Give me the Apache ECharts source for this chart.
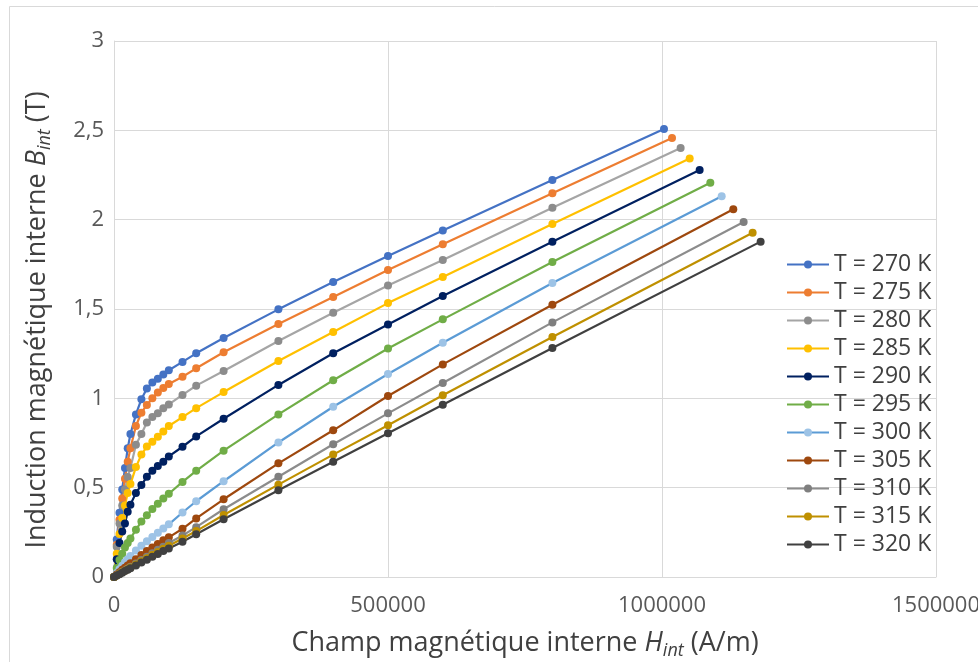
<!DOCTYPE html>
<html>
<head>
<meta charset="utf-8">
<script src="https://cdn.jsdelivr.net/npm/echarts@6/dist/echarts.min.js"></script>
<style>
  html, body { margin: 0; padding: 0; background: #ffffff; }
  #chart { width: 978px; height: 662px; }
</style>
</head>
<body>
<div id="chart"></div>
<script>
// Common internal field grid (A/m)
const hGrid = [0, 5000, 10000, 15000, 20000, 25000, 30000, 40000, 50000, 60000, 70000, 80000, 90000, 100000, 125000, 150000, 200000, 300000, 400000, 500000, 600000, 800000];
// Last point of each series (A/m)
const hLast = [1003600, 1018300, 1034000, 1050500, 1068700, 1088200, 1108900, 1130100, 1149000, 1165400, 1180000];

const seriesNames = ['T = 270 K', 'T = 275 K', 'T = 280 K', 'T = 285 K', 'T = 290 K', 'T = 295 K', 'T = 300 K', 'T = 305 K', 'T = 310 K', 'T = 315 K', 'T = 320 K'];

// B_int (T) values along hGrid, then last point
const b270 = [0, 0.21, 0.36, 0.49, 0.61, 0.72, 0.80, 0.91, 0.995, 1.055, 1.088, 1.110, 1.133, 1.157, 1.204, 1.252, 1.338, 1.498, 1.651, 1.797, 1.940, 2.222, 2.507];
const b275 = [0, 0.18, 0.32, 0.44, 0.55, 0.645, 0.72, 0.845, 0.92, 0.963, 1.0, 1.032, 1.058, 1.08, 1.121, 1.168, 1.258, 1.416, 1.567, 1.718, 1.862, 2.148, 2.457];
const b280 = [0, 0.17, 0.30, 0.40, 0.49, 0.56, 0.61, 0.74, 0.80, 0.865, 0.895, 0.916, 0.944, 0.966, 1.019, 1.071, 1.153, 1.321, 1.479, 1.631, 1.774, 2.067, 2.401];
const b285 = [0, 0.13, 0.24, 0.33, 0.40, 0.47, 0.52, 0.615, 0.685, 0.73, 0.757, 0.785, 0.815, 0.845, 0.895, 0.945, 1.035, 1.209, 1.371, 1.533, 1.679, 1.976, 2.343];
const b290 = [0, 0.10, 0.19, 0.255, 0.30, 0.365, 0.405, 0.47, 0.515, 0.561, 0.595, 0.621, 0.645, 0.675, 0.729, 0.787, 0.886, 1.075, 1.252, 1.413, 1.573, 1.877, 2.278];
const b295 = [0, 0.05, 0.095, 0.13, 0.165, 0.19, 0.215, 0.265, 0.31, 0.345, 0.38, 0.41, 0.44, 0.466, 0.532, 0.594, 0.707, 0.910, 1.101, 1.279, 1.442, 1.763, 2.207];
const b300 = [0, 0.022, 0.043, 0.063, 0.082, 0.10, 0.117, 0.148, 0.175, 0.20, 0.224, 0.247, 0.272, 0.295, 0.361, 0.424, 0.536, 0.753, 0.953, 1.136, 1.311, 1.646, 2.131];
const b305 = [0, 0.014, 0.027, 0.04, 0.052, 0.065, 0.077, 0.10, 0.123, 0.145, 0.165, 0.185, 0.205, 0.222, 0.27, 0.328, 0.435, 0.636, 0.821, 1.013, 1.190, 1.524, 2.058];
const b310 = [0, 0.01, 0.019, 0.029, 0.038, 0.048, 0.057, 0.076, 0.095, 0.114, 0.133, 0.152, 0.17, 0.19, 0.232, 0.279, 0.379, 0.561, 0.743, 0.916, 1.086, 1.425, 1.987];
const b315 = [0, 0.009, 0.018, 0.026, 0.035, 0.044, 0.053, 0.07, 0.088, 0.105, 0.123, 0.14, 0.158, 0.175, 0.216, 0.257, 0.347, 0.517, 0.685, 0.849, 1.017, 1.343, 1.927];
const b320 = [0, 0.008, 0.016, 0.024, 0.033, 0.041, 0.049, 0.065, 0.081, 0.097, 0.113, 0.129, 0.145, 0.16, 0.197, 0.239, 0.323, 0.485, 0.645, 0.805, 0.964, 1.282, 1.877];

const bSeries = [b270, b275, b280, b285, b290, b295, b300, b305, b310, b315, b320];

const xTicks = [0, 500000, 1000000, 1500000];
const yTicks = [0, 0.5, 1, 1.5, 2, 2.5, 3];

const lineColors = ['#4472C4', '#ED7D31', '#A5A5A5', '#FFC000', '#002060', '#70AD47', '#5B9BD5', '#9E480E', '#8C8C8C', '#BF9000', '#404040'];
const markColors = ['#4472C4', '#ED7D31', '#8C8C8C', '#FFC000', '#002060', '#70AD47', '#9DC3E6', '#9E480E', '#7F7F7F', '#BF9000', '#404040'];

const FONT = "'Open Sans', 'Noto Sans', sans-serif";

const series = seriesNames.map((name, s) => {
  const pts = hGrid.map((h, i) => [h, bSeries[s][i]]);
  pts.push([hLast[s], bSeries[s][hGrid.length]]);
  return {
    name: name,
    type: 'line',
    data: pts,
    symbol: 'circle',
    symbolSize: 8,
    showSymbol: true,
    lineStyle: { color: lineColors[s], width: 2.2 },
    itemStyle: { color: markColors[s], borderWidth: 0 },
    emphasis: { disabled: true },
    animation: false
  };
});

const titleRich = {
  t: { fontFamily: FONT, fontSize: 27, color: '#404040', lineHeight: 34 },
  i: { fontFamily: FONT, fontSize: 27, color: '#404040', fontStyle: 'italic', lineHeight: 34 },
  s: { fontFamily: FONT, fontSize: 18, color: '#404040', fontStyle: 'italic', lineHeight: 34, verticalAlign: 'bottom', padding: [12, 0, 0, 0] }
};

const chart = echarts.init(document.getElementById('chart'), null, { renderer: 'canvas' });
chart.setOption({
  animation: false,
  backgroundColor: '#ffffff',
  textStyle: { fontFamily: FONT },
  graphic: [{
    type: 'rect',
    shape: { x: 9.5, y: 6.5, width: 1000, height: 700 },
    style: { fill: 'none', stroke: '#D9D9D9', lineWidth: 1 },
    silent: true
  }],
  grid: { left: 114, right: 42, top: 41, bottom: 85, containLabel: false, outerBoundsMode: 'none' },
  legend: {
    orient: 'vertical',
    left: 781,
    top: 248,
    itemWidth: 42,
    itemHeight: 10,
    itemGap: 5,
    data: seriesNames,
    textStyle: { fontFamily: FONT, fontSize: 23, color: '#404040', lineHeight: 23, padding: [0, 0, 0, 0] },
    selectedMode: false
  },
  xAxis: {
    type: 'value',
    min: xTicks[0],
    max: xTicks[xTicks.length - 1],
    interval: xTicks[1] - xTicks[0],
    axisLine: { show: true, lineStyle: { color: '#D9D9D9', width: 1 } },
    axisTick: { show: false },
    splitLine: { show: true, lineStyle: { color: '#D9D9D9', width: 1 } },
    axisLabel: { fontFamily: FONT, fontSize: 22, color: '#595959', margin: 18, formatter: v => String(v) },
    name: '{t|Champ magnétique interne }{i|H}{s|int}{t| (A/m)}',
    nameLocation: 'middle',
    nameGap: 49,
    nameTextStyle: { rich: titleRich }
  },
  yAxis: {
    type: 'value',
    min: yTicks[0],
    max: yTicks[yTicks.length - 1],
    interval: yTicks[1] - yTicks[0],
    axisLine: { show: true, lineStyle: { color: '#D9D9D9', width: 1 } },
    axisTick: { show: false },
    splitLine: { show: true, lineStyle: { color: '#D9D9D9', width: 1 } },
    axisLabel: { fontFamily: FONT, fontSize: 22, color: '#595959', margin: 10, formatter: v => String(v).replace('.', ',') },
    name: '{t|Induction magnétique interne }{i|B}{s|int}{t| (T)}',
    nameLocation: 'middle',
    nameGap: 60,
    nameRotate: 90,
    nameTextStyle: { rich: titleRich, padding: [0, 22, 0, 0] }
  },
  series: series
});
</script>
</body>
</html>
